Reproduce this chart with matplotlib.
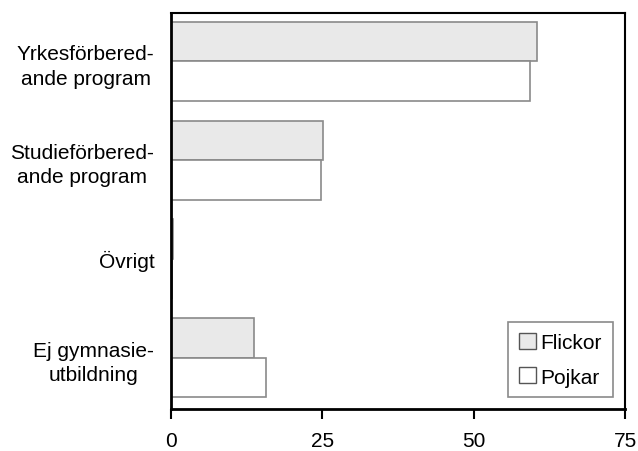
import numpy as np
import matplotlib.pyplot as plt
from matplotlib.patches import Patch

plt.rcParams['font.family'] = ['Liberation Sans', 'DejaVu Sans']

# data
categories = ['Yrkesförbered-\nande program', 'Studieförbered-\nande program',
              'Övrigt', 'Ej gymnasie-\nutbildning']
flickor = [60.5, 25.1, 0.3, 13.7]
pojkar = [59.3, 24.8, 0.1, 15.7]
xticks = [0, 25, 50, 75]

fig = plt.figure(figsize=(6.38, 4.52), dpi=100)
ax = fig.add_axes([0.268, 0.093, 0.712, 0.876])

y = np.arange(len(categories))
h = 0.4
ax.barh(y - h / 2, flickor, height=h, color='#e9e9e9', edgecolor='#8a8a8a', linewidth=1.2)
ax.barh(y + h / 2, pojkar, height=h, color='white', edgecolor='#8a8a8a', linewidth=1.2)

ax.set_xlim(0, 75)
ax.set_ylim(3.52, -0.49)
ax.set_xticks(xticks)
ax.set_xticklabels([str(t) for t in xticks], fontsize=15)
ax.set_yticks(y)
ax.set_yticklabels(categories, fontsize=15, multialignment='center', linespacing=1.35)
ax.tick_params(axis='y', length=0, pad=12)
ax.tick_params(axis='x', direction='out', length=7, width=1.5, pad=9)

for s in ax.spines.values():
    s.set_color('black')
    s.set_linewidth(1.5)
ax.spines['left'].set_linewidth(2)
ax.spines['bottom'].set_linewidth(2)

handles = [Patch(facecolor='#e9e9e9', edgecolor='#555555', label='Flickor'),
           Patch(facecolor='white', edgecolor='#555555', label='Pojkar')]
leg = ax.legend(handles=handles, loc='lower right', bbox_to_anchor=(0.972, 0.03),
                fontsize=15, handlelength=0.8, handleheight=0.8, handletextpad=0.25,
                fancybox=False, framealpha=1, borderpad=0.5, labelspacing=0.75,
                borderaxespad=0)
leg.get_frame().set_edgecolor('#8a8a8a')
leg.get_frame().set_linewidth(1.2)

fig.savefig('out.png', dpi=100)
